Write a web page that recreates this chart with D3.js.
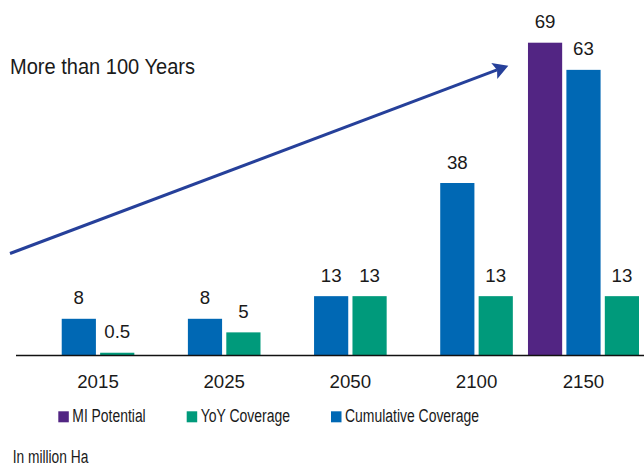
<!DOCTYPE html>
<html>
<head>
<meta charset="utf-8">
<script src="https://cdn.jsdelivr.net/npm/d3@7"></script>
<style>
  html, body { margin: 0; padding: 0; background: #ffffff; }
  svg { display: block; }
  .num { font-family: "Liberation Sans", Arial, sans-serif; font-size: 18.7px; fill: #1a1a1a; }
  .txt { font-family: "Liberation Sans", Arial, sans-serif; fill: #1a1a1a; }
</style>
</head>
<body>
<svg id="chart" width="644" height="469"></svg>
<script>
// ---- data ----
const categories = ["2015", "2025", "2050", "2100", "2150"];
const seriesKeys = ["mi", "cum", "yoy"];
const seriesLabels = ["MI Potential", "Cumulative Coverage", "YoY Coverage"];
const miPotential = [null, null, null, null, 69];
const cumulativeCoverage = [8, 8, 13, 38, 63];
const yoyCoverage = [0.5, 5, 13, 13, 13];
const legendOrder = ["mi", "yoy", "cum"];
const annotationText = "More than 100 Years";
const unitText = "In million Ha";

// ---- styles (condensed typeface emulated with target widths) ----
const colors = { mi: "#522583", yoy: "#009a7b", cum: "#0068b4" };
const legendTextWidth = { mi: 73.4, yoy: 89.3, cum: 134 };
const seriesValues = { mi: miPotential, cum: cumulativeCoverage, yoy: yoyCoverage };
const labelOf = {};
seriesKeys.forEach((k, i) => labelOf[k] = seriesLabels[i]);

const W = 644, H = 469;
const svg = d3.select("#chart");

const x0 = d3.scaleBand().domain(categories).range([23.3, 639]).paddingInner(0.12).paddingOuter(0);
const x1 = d3.scaleBand().domain(seriesKeys).range([0, x0.bandwidth()]).paddingInner(0.11);
const y = d3.scaleLinear().domain([0, 69]).range([355, 42.7]);

// bars
const rows = [];
categories.forEach((c, i) => {
  seriesKeys.forEach(k => {
    const v = seriesValues[k][i];
    if (v !== null && v !== undefined) rows.push({ cat: c, key: k, value: v });
  });
});

const g = svg.append("g");
g.selectAll("rect.bar").data(rows).join("rect")
  .attr("class", "bar")
  .attr("x", d => x0(d.cat) + x1(d.key))
  .attr("y", d => y(d.value))
  .attr("width", x1.bandwidth())
  .attr("height", d => y(0) - y(d.value))
  .attr("fill", d => colors[d.key]);

g.selectAll("text.val").data(rows).join("text")
  .attr("class", "num val")
  .attr("x", d => x0(d.cat) + x1(d.key) + x1.bandwidth() / 2)
  .attr("y", d => y(d.value) - 14.5)
  .attr("text-anchor", "middle")
  .text(d => d.value);

// baseline
svg.append("line")
  .attr("x1", 16).attr("x2", W)
  .attr("y1", y(0) + 0.5).attr("y2", y(0) + 0.5)
  .attr("stroke", "#111").attr("stroke-width", 1.6);

// category labels (centered under visible bars)
categories.forEach((c, i) => {
  const centers = rows.filter(r => r.cat === c).map(r => x0(c) + x1(r.key) + x1.bandwidth() / 2);
  svg.append("text").attr("class", "num")
    .attr("x", d3.mean(centers))
    .attr("y", 388.3)
    .attr("text-anchor", "middle")
    .text(c);
});

// arrow annotation
const ax1 = 10, ay1 = 253.5, ax2 = 508.3, ay2 = 65.7;
const ang = Math.atan2(ay2 - ay1, ax2 - ax1);
const headLen = 15, headHalf = 8.5, notch = 3;
const ux = Math.cos(ang), uy = Math.sin(ang), px = -uy, py = ux;
const bx = ax2 - ux * headLen, by = ay2 - uy * headLen;
svg.append("line")
  .attr("x1", ax1).attr("y1", ay1)
  .attr("x2", bx + ux * notch).attr("y2", by + uy * notch)
  .attr("stroke", "#26409a").attr("stroke-width", 3);
svg.append("path")
  .attr("d", `M${ax2},${ay2} L${bx + px * headHalf},${by + py * headHalf} L${bx + ux * notch},${by + uy * notch} L${bx - px * headHalf},${by - py * headHalf} Z`)
  .attr("fill", "#26409a");

svg.append("text").attr("class", "txt")
  .attr("x", 10).attr("y", 74.3)
  .attr("font-size", 22)
  .attr("textLength", 185).attr("lengthAdjust", "spacingAndGlyphs")
  .text(annotationText);

// legend
let lx = 58.3;
const legend = svg.append("g");
legendOrder.forEach(k => {
  legend.append("rect").attr("x", lx).attr("y", 411.3).attr("width", 10.5).attr("height", 11).attr("fill", colors[k]);
  legend.append("text").attr("class", "txt")
    .attr("x", lx + 14).attr("y", 422.3)
    .attr("font-size", 18)
    .attr("textLength", legendTextWidth[k]).attr("lengthAdjust", "spacingAndGlyphs")
    .text(labelOf[k]);
  lx = lx + 14 + legendTextWidth[k] + 41;
});

svg.append("text").attr("class", "txt")
  .attr("x", 12.7).attr("y", 462.7)
  .attr("font-size", 18)
  .attr("textLength", 75.6).attr("lengthAdjust", "spacingAndGlyphs")
  .text(unitText);
</script>
</body>
</html>
